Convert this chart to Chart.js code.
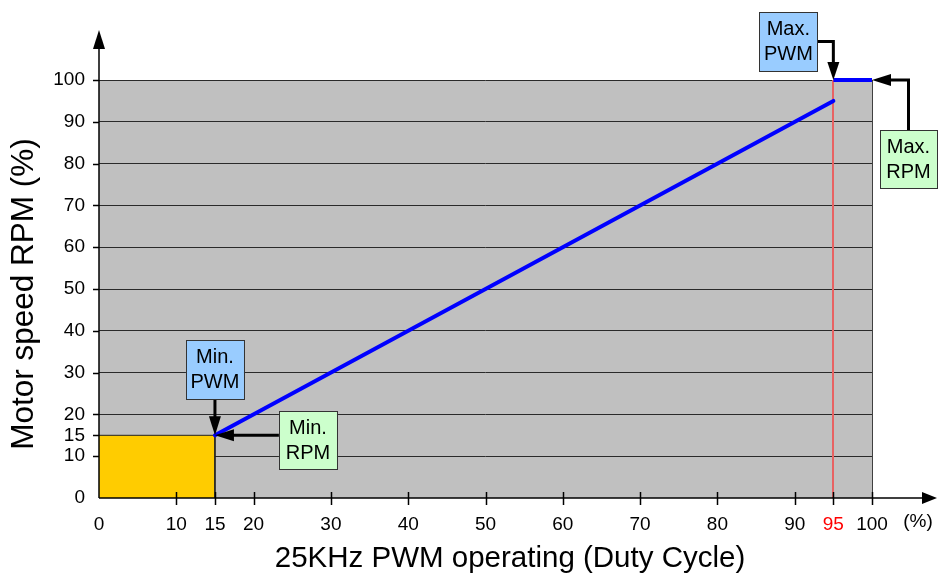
<!DOCTYPE html>
<html>
<head>
<meta charset="utf-8">
<script src="https://cdn.jsdelivr.net/npm/chart.js@4.4.1/dist/chart.umd.min.js"></script>
<style>
  html, body { margin: 0; padding: 0; background: #ffffff; }
  #wrap { width: 938px; height: 578px; position: relative; }
</style>
</head>
<body>
<div id="wrap"><canvas id="c"></canvas></div>
<script>
// ---- data ----
const xTickValues = [0, 10, 15, 20, 30, 40, 50, 60, 70, 80, 90, 95, 100];
const yTickValues = [0, 10, 15, 20, 30, 40, 50, 60, 70, 80, 90, 100];
const rampX = [15, 95];
const rampY = [15, 95];
const maxX = [95, 100];
const maxY = [100, 100];
const minZoneX = [0, 15, 15];
const minZoneY = [15, 15, 0];
const xTitle = '25KHz PWM operating (Duty Cycle)';
const yTitle = 'Motor speed RPM (%)';
const xUnit = '(%)';
const highlightX = 95;
const minPoint = [15, 15];
const maxPwmPoint = [95, 100];
const maxRpmPoint = [100, 100];

const pts = (xs, ys) => xs.map((x, i) => ({ x: x, y: ys[i] }));

const FONT = '"Liberation Sans", Arial, sans-serif';

// annotation boxes (offsets in px relative to their data anchor)
const notes = [
  { lines: ['Min.', 'PWM'], fill: '#99ccff', anchor: minPoint, dx: -29, dy: -95, w: 58, h: 59, arrow: 'down' },
  { lines: ['Min.', 'RPM'], fill: '#ccffcc', anchor: minPoint, dx: 64, dy: -24, w: 58, h: 58, arrow: 'left' },
  { lines: ['Max.', 'PWM'], fill: '#99ccff', anchor: maxPwmPoint, dx: -74, dy: -68, w: 58, h: 59, arrow: 'rightdown' },
  { lines: ['Max.', 'RPM'], fill: '#ccffcc', anchor: maxRpmPoint, dx: 8, dy: 50, w: 57, h: 58, arrow: 'upleft' }
];

function arrowHead(ctx, tx, ty, dir, len, half) {
  ctx.beginPath();
  ctx.moveTo(tx, ty);
  if (dir === 'down') { ctx.lineTo(tx - half, ty - len); ctx.lineTo(tx + half, ty - len); }
  if (dir === 'up') { ctx.lineTo(tx - half, ty + len); ctx.lineTo(tx + half, ty + len); }
  if (dir === 'left') { ctx.lineTo(tx + len, ty - half); ctx.lineTo(tx + len, ty + half); }
  if (dir === 'right') { ctx.lineTo(tx - len, ty - half); ctx.lineTo(tx - len, ty + half); }
  ctx.closePath();
  ctx.fill();
}

const decor = {
  id: 'decor',
  beforeDraw(chart) {
    const { ctx, chartArea: a } = chart;
    ctx.save();
    ctx.fillStyle = '#c0c0c0';
    ctx.fillRect(a.left, a.top, a.right - a.left, a.bottom - a.top);
    ctx.restore();
  },
  beforeDatasetsDraw(chart) {
    const { ctx, chartArea: a, scales } = chart;
    const x = Math.round(scales.x.getPixelForValue(highlightX));
    ctx.save();
    ctx.strokeStyle = '#e86262';
    ctx.lineWidth = 2;
    ctx.beginPath();
    ctx.moveTo(x, a.top); ctx.lineTo(x, a.bottom);
    ctx.stroke();
    ctx.restore();
  },
  afterDraw(chart) {
    const { ctx, chartArea: a, scales } = chart;
    const xs = scales.x, ys = scales.y;
    ctx.save();
    ctx.strokeStyle = '#000';
    ctx.fillStyle = '#000';
    // axes
    ctx.lineWidth = 1.5;
    ctx.beginPath();
    ctx.moveTo(a.left, a.bottom); ctx.lineTo(a.left, 46);
    ctx.moveTo(a.left, a.bottom); ctx.lineTo(922, a.bottom);
    ctx.stroke();
    arrowHead(ctx, a.left, 30, 'up', 19, 6);
    arrowHead(ctx, 937, a.bottom, 'right', 15, 6);
    // tick marks
    ctx.lineWidth = 1.5;
    ctx.beginPath();
    yTickValues.forEach(v => {
      if (v === 0) return;
      const y = Math.round(ys.getPixelForValue(v)) + 0.5;
      ctx.moveTo(a.left - 6, y); ctx.lineTo(a.left, y);
    });
    xTickValues.forEach(v => {
      if (v === 0) return;
      const x = Math.round(xs.getPixelForValue(v)) + 0.5;
      ctx.moveTo(x, a.bottom - 6); ctx.lineTo(x, a.bottom + 7);
    });
    ctx.stroke();
    // annotations
    notes.forEach(n => {
      const ax = xs.getPixelForValue(n.anchor[0]);
      const ay = ys.getPixelForValue(n.anchor[1]);
      const bx = ax + n.dx, by = ay + n.dy;
      ctx.lineWidth = 3;
      ctx.strokeStyle = '#000';
      ctx.fillStyle = '#000';
      ctx.beginPath();
      if (n.arrow === 'down') {
        ctx.moveTo(ax, by + n.h); ctx.lineTo(ax, ay - 16);
        ctx.stroke(); arrowHead(ctx, ax, ay, 'down', 19, 6);
      } else if (n.arrow === 'left') {
        const my = ay;
        ctx.moveTo(bx, my); ctx.lineTo(ax + 16, my);
        ctx.stroke(); arrowHead(ctx, ax, ay, 'left', 19, 6);
      } else if (n.arrow === 'rightdown') {
        const my = by + n.h / 2;
        ctx.moveTo(bx + n.w, my); ctx.lineTo(ax, my); ctx.lineTo(ax, ay - 15);
        ctx.stroke(); arrowHead(ctx, ax, ay, 'down', 18, 6);
      } else if (n.arrow === 'upleft') {
        const mx = bx + n.w / 2;
        ctx.moveTo(mx, by); ctx.lineTo(mx, ay); ctx.lineTo(ax + 16, ay);
        ctx.stroke(); arrowHead(ctx, ax, ay, 'left', 19, 6);
      }
      ctx.fillStyle = n.fill;
      ctx.fillRect(bx, by, n.w, n.h);
      ctx.lineWidth = 1;
      ctx.strokeStyle = '#333';
      ctx.strokeRect(Math.round(bx) + 0.5, Math.round(by) + 0.5, n.w, n.h);
      ctx.fillStyle = '#000';
      ctx.font = '20px ' + FONT;
      ctx.textAlign = 'center';
      ctx.textBaseline = 'middle';
      ctx.fillText(n.lines[0], bx + n.w / 2, by + n.h / 2 - 12);
      ctx.fillText(n.lines[1], bx + n.w / 2, by + n.h / 2 + 13);
    });
    // titles
    ctx.fillStyle = '#000';
    ctx.font = '29.5px ' + FONT;
    ctx.textAlign = 'center';
    ctx.textBaseline = 'alphabetic';
    ctx.fillText(xTitle, 510, 567);
    ctx.save();
    ctx.translate(33, 294);
    ctx.rotate(-Math.PI / 2);
    ctx.font = '31.5px ' + FONT;
    ctx.fillText(yTitle, 0, 0);
    ctx.restore();
    ctx.font = '19px ' + FONT;
    ctx.textBaseline = 'middle';
    ctx.fillText(xUnit, 918, 522);
    ctx.restore();
  }
};

new Chart(document.getElementById('c'), {
  type: 'scatter',
  data: {
    datasets: [
      { data: pts(rampX, rampY), showLine: true, borderColor: '#0000ff', borderWidth: 4, pointRadius: 0, borderCapStyle: 'round', order: 1, clip: false },
      { data: pts(maxX, maxY), showLine: true, borderColor: '#0000ff', borderWidth: 4, pointRadius: 0, borderCapStyle: 'butt', order: 1, clip: false },
      { data: pts(minZoneX, minZoneY), showLine: true, borderColor: '#222222', borderWidth: 1, backgroundColor: '#ffcc00', fill: 'origin', pointRadius: 0, order: 2 }
    ]
  },
  options: {
    responsive: true,
    maintainAspectRatio: false,
    animation: false,
    events: [],
    layout: { padding: { left: 0, right: 66, top: 80, bottom: 0 } },
    plugins: { legend: { display: false }, tooltip: { enabled: false } },
    scales: {
      x: {
        type: 'linear', min: 0, max: 100,
        afterBuildTicks: s => { s.ticks = xTickValues.map(v => ({ value: v })); },
        afterFit: s => { s.height = 80; },
        border: { display: false },
        grid: {
          drawTicks: false,
          lineWidth: 1,
          color: c => (c.tick && c.tick.value === 100) ? '#404040' : 'rgba(0,0,0,0)'
        },
        ticks: {
          autoSkip: false, maxRotation: 0, padding: 15,
          font: { size: 19, family: FONT },
          color: c => c.tick.value === highlightX ? '#ff0000' : '#000000'
        }
      },
      y: {
        type: 'linear', min: 0, max: 100,
        afterBuildTicks: s => { s.ticks = yTickValues.map(v => ({ value: v })); },
        afterFit: s => { s.width = 99; },
        border: { display: false },
        grid: {
          drawTicks: false,
          lineWidth: 1,
          color: c => (c.tick && (c.tick.value === 0 || c.tick.value === 15)) ? 'rgba(0,0,0,0)' : '#2a2a2a'
        },
        ticks: {
          autoSkip: false, padding: 14,
          font: { size: 19, family: FONT },
          color: '#000000'
        }
      }
    }
  },
  plugins: [decor]
});
</script>
</body>
</html>
